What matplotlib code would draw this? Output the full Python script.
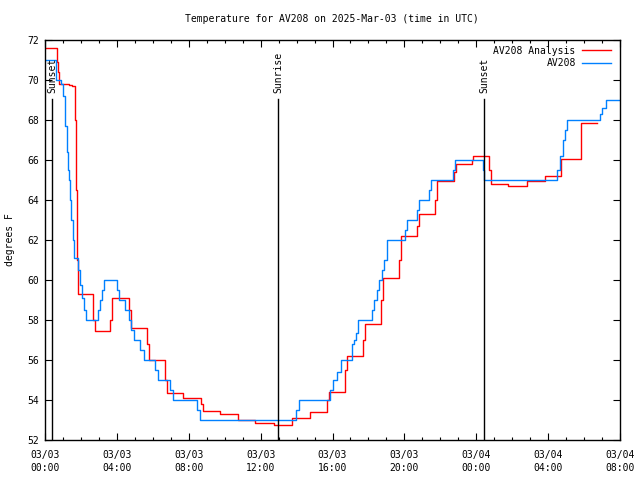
import matplotlib
matplotlib.use("Agg")
import matplotlib.pyplot as plt

# Hours since 2025-03-03 00:00 UTC
analysis_hours = [0.00, 0.67, 0.72, 0.78, 1.34, 1.50, 1.67, 1.74, 1.80, 1.84,
                  2.67, 2.78, 3.63, 3.73, 4.67, 4.79, 5.68, 5.79, 6.68, 6.79,
                  7.70, 8.68, 8.79, 9.74, 10.74, 11.69, 12.74, 13.74, 14.75,
                  15.69, 15.80, 16.69, 16.81, 17.70, 17.81, 18.70, 18.81,
                  19.70, 19.81, 20.70, 20.81, 21.70, 21.81, 22.76, 22.87,
                  23.76, 23.82, 24.71, 24.82, 25.77, 26.82, 27.82, 28.71,
                  29.83, 30.72]
analysis_temp = [71.6, 70.9, 70.4, 69.8, 69.75, 69.7, 68.0, 64.5, 61.0, 59.3,
                 58.0, 57.45, 58.0, 59.1, 58.5, 57.6, 56.8, 56.0, 55.0, 54.33,
                 54.1, 53.8, 53.45, 53.28, 53.0, 52.83, 52.75, 53.08, 53.38,
                 54.0, 54.4, 55.5, 56.2, 57.0, 57.8, 59.0, 60.1,
                 61.0, 62.2, 62.7, 63.3, 64.0, 64.95, 65.4, 65.8,
                 66.0, 66.2, 65.5, 64.78, 64.68, 64.97, 65.2, 66.05,
                 67.83, 67.83]

obs_hours = [0.00, 0.61, 0.89, 1.00, 1.11, 1.21, 1.30, 1.35, 1.41, 1.46, 1.54,
             1.61, 1.84, 1.95, 2.08, 2.17, 2.28, 2.97, 3.06, 3.17, 3.30,
             4.01, 4.12, 4.45, 4.67, 4.79, 4.95, 5.29, 5.51, 6.12, 6.29,
             6.96, 7.12, 8.48, 8.63, 13.97, 14.13, 15.86, 16.03, 16.25,
             16.47, 17.08, 17.20, 17.31, 17.42, 18.20, 18.31, 18.47, 18.59,
             18.75, 18.86, 19.03, 20.03, 20.14, 20.70, 20.81, 21.37, 21.48,
             22.70, 22.81, 24.35, 24.43, 28.49, 28.66, 28.83, 28.94, 29.05,
             30.88, 30.99, 31.22, 32.0]
obs_temp = [71.0, 70.0, 69.8, 69.2, 67.7, 66.4, 65.5, 65.0, 64.0, 63.0, 62.0,
            61.1, 60.5, 59.75, 59.1, 58.5, 58.0, 58.5, 59.0, 59.5, 60.0,
            59.5, 59.0, 58.5, 58.0, 57.5, 57.0, 56.5, 56.0, 55.5, 55.0,
            54.5, 54.0, 53.5, 53.0, 53.5, 54.0, 54.5, 55.0, 55.4,
            56.0, 56.8, 57.0, 57.35, 58.0, 58.5, 59.0, 59.5, 60.0,
            60.5, 61.0, 62.0, 62.5, 63.0, 63.5, 64.0, 64.5, 65.0,
            65.5, 66.0, 65.5, 65.0, 65.5, 66.2, 67.0, 67.5, 68.0,
            68.3, 68.6, 69.0, 69.0]

event_hours = [0.39, 12.97, 24.43]
event_labels = ["Sunset", "Sunrise", "Sunset"]

xtick_hours = [0, 4, 8, 12, 16, 20, 24, 28, 32]
xtick_labels = ["03/03\n00:00", "03/03\n04:00", "03/03\n08:00", "03/03\n12:00",
                "03/03\n16:00", "03/03\n20:00", "03/04\n00:00", "03/04\n04:00",
                "03/04\n08:00"]
yticks = [52, 54, 56, 58, 60, 62, 64, 66, 68, 70, 72]

FONT = "DejaVu Sans Mono"
FS = 7

fig = plt.figure(figsize=(6.4, 4.8), dpi=100)
ax = fig.add_axes([45/640, 40/480, 575/640, 400/480])

ax.plot(analysis_hours, analysis_temp, drawstyle="steps-post", color="#ff0000",
        lw=1.0, label="AV208 Analysis")
ax.plot(obs_hours, obs_temp, drawstyle="steps-post", color="#0080ff",
        lw=1.0, label="AV208")

for h, lab in zip(event_hours, event_labels):
    ax.plot([h, h], [52, 69.05], color="black", lw=1.0)
    ax.text(h, 69.35, lab, rotation=90, ha="center", va="bottom",
            fontfamily=FONT, fontsize=FS)

ax.set_xlim(0, 32)
ax.set_ylim(52, 72)
ax.set_xticks(xtick_hours)
ax.set_xticklabels(xtick_labels, fontfamily=FONT, fontsize=FS, linespacing=1.45)
ax.set_xticks(range(0, 33), minor=True)
ax.set_yticks(yticks)
ax.set_yticklabels([str(v) for v in yticks], fontfamily=FONT, fontsize=FS)
ax.tick_params(which="both", direction="in", top=True, right=True, width=0.8,
               colors="black")
ax.tick_params(which="major", length=5, pad=4)
ax.tick_params(which="minor", length=2.5)
ax.tick_params(axis="x", which="major", pad=7)
for s in ax.spines.values():
    s.set_linewidth(1.0)

fig.text(10/640, 0.5, "degrees F", rotation=90, ha="center", va="center",
         fontfamily=FONT, fontsize=FS)
fig.text(332/640, 1 - 19/480, "Temperature for AV208 on 2025-Mar-03 (time in UTC)",
         ha="center", va="center", fontfamily=FONT, fontsize=FS)

leg = ax.legend(loc="upper right", bbox_to_anchor=(0.994, 1.0), frameon=False,
                markerfirst=False, prop={"family": FONT, "size": FS},
                handlelength=3.0, handletextpad=0.6, labelspacing=0.25,
                borderaxespad=0.3, borderpad=0.3, alignment="right")
for t in leg.get_texts():
    t.set_ha("right")

fig.savefig("out.png", dpi=100)
